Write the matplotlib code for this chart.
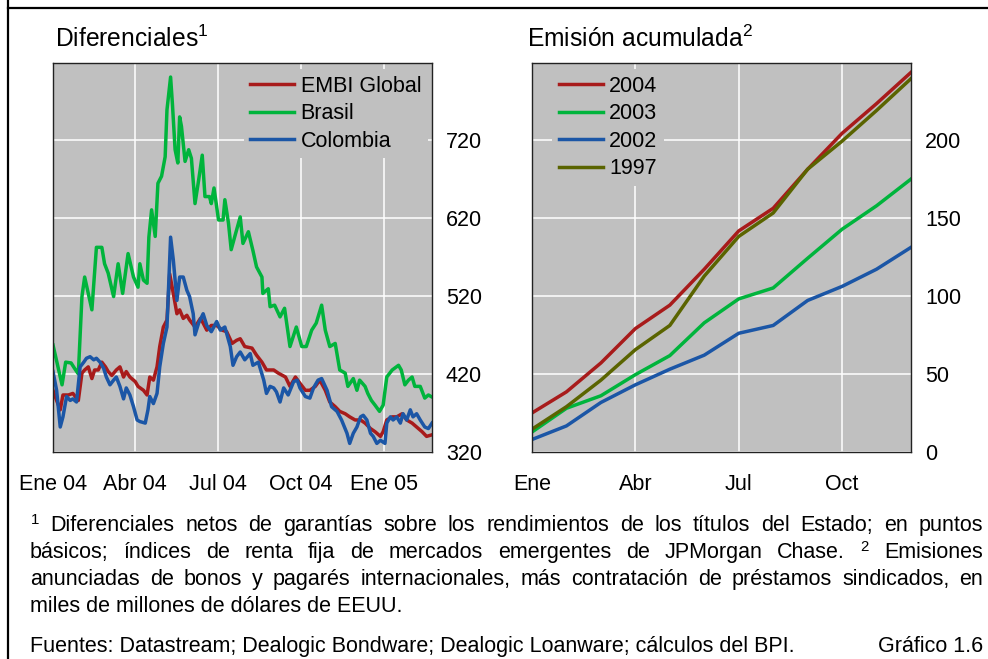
import matplotlib
matplotlib.use('Agg')
import matplotlib.pyplot as plt
import pandas as pd

plt.rcParams['font.family'] = ['Liberation Sans', 'DejaVu Sans']
plt.rcParams['mathtext.fontset'] = 'custom'
plt.rcParams['mathtext.rm'] = 'Liberation Sans'
plt.rcParams['mathtext.it'] = 'Liberation Sans:italic'
plt.rcParams['mathtext.bf'] = 'Liberation Sans:bold'

START = pd.Timestamp('2004-01-01')

# Diferenciales: dias desde el 1-ene-2004 y puntos basicos
embi_days = [0, 4, 8, 11, 17, 22, 28, 32, 35, 39, 43, 46, 50, 54, 58, 61, 65, 70, 74, 78,
             81, 85, 91, 94, 100, 104, 107, 111, 115, 118, 122, 126, 129, 133, 137, 140, 144,
             148, 151, 157, 163, 166, 170, 175, 181, 187, 192, 198, 203, 207, 212, 220, 225,
             231, 236, 244, 249, 257, 262, 268, 273, 279, 284, 290, 295, 301, 306, 312, 317,
             323, 328, 334, 340, 345, 351, 356, 362, 365, 369, 375, 380, 386, 391, 397, 402,
             408, 413, 419]
embi_vals = [399, 386, 374, 393, 393, 395, 386, 421, 425, 429, 414, 425, 425, 435, 429, 423,
             418, 425, 429, 416, 423, 416, 410, 404, 399, 393, 416, 412, 429, 455, 480, 489,
             548, 523, 497, 502, 491, 495, 489, 480, 491, 485, 476, 482, 482, 476, 474, 459,
             463, 465, 455, 453, 444, 435, 425, 425, 421, 416, 404, 416, 408, 399, 399, 404,
             412, 399, 384, 378, 372, 369, 365, 361, 361, 357, 350, 346, 340, 346, 361, 365,
             365, 369, 361, 357, 352, 346, 340, 342]

brasil_days = [0, 10, 14, 20, 25, 28, 32, 35, 39, 43, 48, 54, 57, 61, 67, 72, 77, 83, 89, 94,
               96, 100, 104, 106, 109, 113, 116, 120, 124, 126, 130, 132, 135, 138, 140, 142,
               146, 150, 153, 157, 161, 165, 168, 173, 175, 178, 183, 188, 190, 194, 197, 201,
               207, 210, 216, 221, 225, 231, 232, 238, 240, 245, 251, 256, 262, 269, 275, 280,
               286, 291, 297, 301, 306, 312, 317, 323, 326, 332, 336, 339, 345, 348, 352, 356,
               361, 365, 369, 375, 382, 385, 389, 393, 397, 400, 406, 411, 415, 418]
brasil_vals = [457, 406, 435, 434, 425, 420, 519, 544, 523, 502, 582, 582, 561, 549, 519, 561,
               523, 574, 544, 531, 561, 540, 536, 595, 630, 596, 664, 673, 698, 758, 800, 766,
               707, 690, 749, 737, 692, 707, 696, 638, 668, 700, 647, 647, 638, 658, 617, 617,
               643, 613, 579, 596, 621, 587, 602, 578, 557, 544, 523, 529, 506, 508, 493, 504,
               455, 480, 455, 455, 476, 485, 508, 476, 455, 459, 425, 421, 404, 414, 399, 412,
               404, 395, 386, 380, 372, 380, 416, 425, 431, 425, 406, 412, 416, 404, 404, 389,
               393, 391]

colombia_days = [0, 4, 8, 11, 15, 19, 22, 26, 30, 34, 37, 41, 45, 48, 52, 56, 59, 63, 67, 70,
                 74, 78, 81, 85, 89, 93, 96, 102, 105, 107, 111, 115, 118, 122, 126, 130, 133,
                 137, 140, 144, 148, 151, 155, 157, 161, 166, 170, 175, 181, 185, 190, 196, 199,
                 203, 207, 212, 218, 221, 227, 233, 236, 240, 244, 247, 251, 255, 260, 266, 270,
                 273, 279, 284, 288, 293, 297, 303, 308, 314, 319, 325, 328, 332, 336, 340, 343,
                 347, 351, 354, 358, 362, 367, 369, 373, 376, 380, 384, 387, 391, 395, 398, 402,
                 406, 411, 415, 419]
colombia_vals = [423, 399, 352, 365, 391, 386, 388, 384, 429, 435, 440, 442, 438, 440, 435, 427,
                 416, 406, 412, 416, 404, 388, 402, 393, 378, 361, 359, 357, 374, 391, 382, 395,
                 429, 459, 480, 595, 566, 514, 544, 544, 527, 519, 497, 470, 485, 497, 482, 474,
                 487, 476, 480, 455, 431, 442, 448, 438, 446, 431, 435, 412, 395, 404, 402, 397,
                 384, 402, 393, 410, 412, 402, 391, 389, 402, 412, 414, 399, 378, 372, 361, 344,
                 331, 344, 352, 365, 367, 361, 344, 340, 331, 335, 331, 357, 365, 361, 365, 357,
                 369, 361, 374, 365, 369, 361, 352, 350, 357]

left_ticks = ['2004-01-01', '2004-04-01', '2004-07-01', '2004-10-01', '2005-01-01']
left_tick_labels = ['Ene 04', 'Abr 04', 'Jul 04', 'Oct 04', 'Ene 05']
left_yticks = [320, 420, 520, 620, 720]

# Emision acumulada, miles de millones de USD
months = list(range(12))
month_ticks = [0, 3, 6, 9]
month_labels = ['Ene', 'Abr', 'Jul', 'Oct']
em_2004 = [25, 38.5, 57, 79, 94, 117, 141.5, 156, 181, 204, 223, 243]
em_2003 = [12.8, 28, 36, 49.5, 61.7, 82.7, 98, 105, 124, 142.6, 157.6, 174.7]
em_2002 = [8, 16.7, 31.7, 43, 53, 62, 76, 81, 97, 106, 117, 131]
em_1997 = [14.6, 29, 46, 65.5, 81, 112.6, 138, 153, 181, 199, 218.6, 239]
right_yticks = [0, 50, 100, 150, 200]

RED = '#A81B1B'
GREEN = '#00B43C'
BLUE = '#1B56A6'
OLIVE = '#5A6400'
BG = '#C0C0C0'
LW = 2.5
FS = 15.5

notes = [
    "$^{1}$ Diferenciales netos de garantías sobre los rendimientos de los títulos del Estado; en puntos",
    "básicos; índices de renta fija de mercados emergentes de JPMorgan Chase. $^{2}$ Emisiones",
    "anunciadas de bonos y pagarés internacionales, más contratación de préstamos sindicados, en",
]
last_note = "miles de millones de dólares de EEUU."
sources = "Fuentes: Datastream; Dealogic Bondware; Dealogic Loanware; cálculos del BPI."
chart_no = "Gráfico 1.6"


def style_axes(ax):
    ax.set_facecolor(BG)
    for s in ax.spines.values():
        s.set_color('#222222')
        s.set_linewidth(1.0)
    ax.grid(True, color='white', linewidth=1.1)
    ax.set_axisbelow(True)
    ax.tick_params(axis='y', length=0, left=False, right=False, labelleft=False,
                   labelright=True, pad=10, labelsize=FS)
    ax.tick_params(axis='x', length=0, pad=16, labelsize=FS)


def justify_line(fig, text, x0, x1, y):
    # one Text per word, spread later so the line fills x0..x1 (pixels)
    W, H = fig.bbox.width, fig.bbox.height
    words = text.split(' ')
    objs = [fig.text(x0 / W, 1 - y / H, w, fontsize=FS, va='baseline') for w in words]
    return objs, x0, x1


def place_words(fig, line):
    objs, x0, x1 = line
    r = fig.canvas.get_renderer()
    W = fig.bbox.width
    widths = [o.get_window_extent(r).width for o in objs]
    gap = (x1 - x0 - sum(widths)) / (len(objs) - 1)
    x = x0
    for o, w in zip(objs, widths):
        o.set_x(x / W)
        x += w + gap


fig = plt.figure(figsize=(9.88, 6.59), dpi=100)

legend_kw = dict(fontsize=FS, frameon=True, facecolor=BG, edgecolor='none', framealpha=1,
                 fancybox=False, handlelength=2.05, handletextpad=0.3, labelspacing=0.3,
                 borderpad=0.3, borderaxespad=0.2)

ax1 = fig.add_axes([53 / 988, 1 - 452 / 659, 379 / 988, 389 / 659])
style_axes(ax1)
ed = START + pd.to_timedelta(embi_days, unit='D')
bd = START + pd.to_timedelta(brasil_days, unit='D')
cd = START + pd.to_timedelta(colombia_days, unit='D')
ax1.plot(ed, embi_vals, color=RED, lw=LW, label='EMBI Global')
ax1.plot(bd, brasil_vals, color=GREEN, lw=LW, label='Brasil')
ax1.plot(cd, colombia_vals, color=BLUE, lw=LW, label='Colombia')
ax1.set_xlim(START, START + pd.Timedelta(days=419))
ax1.set_ylim(320, 818)
ax1.set_yticks(left_yticks)
ax1.set_xticks(pd.to_datetime(left_ticks))
ax1.set_xticklabels(left_tick_labels)
ax1.legend(loc='upper right', bbox_to_anchor=(1.0, 0.995), **legend_kw)

ax2 = fig.add_axes([532 / 988, 1 - 452 / 659, 379 / 988, 389 / 659])
style_axes(ax2)
ax2.plot(months, em_2004, color=RED, lw=LW, label='2004')
ax2.plot(months, em_2003, color=GREEN, lw=LW, label='2003')
ax2.plot(months, em_2002, color=BLUE, lw=LW, label='2002')
ax2.plot(months, em_1997, color=OLIVE, lw=LW, label='1997')
ax2.set_xlim(0, 11)
ax2.set_ylim(0, 249)
ax2.set_yticks(right_yticks)
ax2.set_xticks(month_ticks)
ax2.set_xticklabels(month_labels)
ax2.legend(loc='upper left', bbox_to_anchor=(0.042, 0.995), **legend_kw)

fig.text(55 / 988, 1 - 47 / 659, 'Diferenciales$^{1}$', fontsize=17.7, va='baseline')
fig.text(527 / 988, 1 - 47 / 659, 'Emisión acumulada$^{2}$', fontsize=17.7, va='baseline')

# frame lines
fig.add_artist(plt.Line2D([8 / 988, 1], [1 - 8 / 659] * 2, color='black', lw=1.6))
fig.add_artist(plt.Line2D([8 / 988] * 2, [0, 1], color='black', lw=1.6))

baselines = [531, 558, 585]
lines = [justify_line(fig, t, 30, 983, yb) for t, yb in zip(notes, baselines)]
fig.text(30 / 988, 1 - 612 / 659, last_note, fontsize=FS, va='baseline')
fig.text(30 / 988, 1 - 652 / 659, sources, fontsize=FS, va='baseline')
fig.text(983 / 988, 1 - 652 / 659, chart_no, fontsize=FS, va='baseline', ha='right')

fig.canvas.draw()
for ln in lines:
    place_words(fig, ln)

fig.savefig('out.png', dpi=100)
